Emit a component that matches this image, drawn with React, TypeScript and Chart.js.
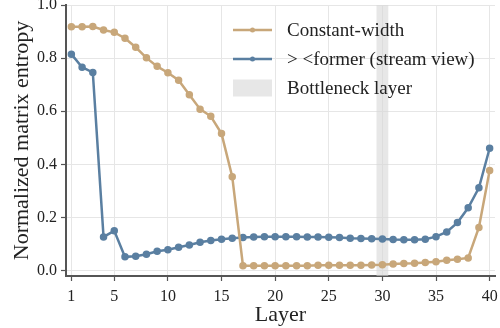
import React, { useEffect, useRef } from "react";
import { Chart, registerables } from "chart.js";

Chart.register(...registerables);

const layers = [1, 2, 3, 4, 5, 6, 7, 8, 9, 10, 11, 12, 13, 14, 15, 16, 17, 18, 19, 20, 21, 22, 23, 24, 25, 26, 27, 28, 29, 30, 31, 32, 33, 34, 35, 36, 37, 38, 39, 40];
const constantWidth = [0.918, 0.918, 0.919, 0.906, 0.897, 0.875, 0.841, 0.801, 0.769, 0.745, 0.717, 0.662, 0.608, 0.581, 0.516, 0.354, 0.019, 0.019, 0.019, 0.019, 0.019, 0.019, 0.019, 0.02, 0.02, 0.02, 0.02, 0.02, 0.021, 0.022, 0.025, 0.027, 0.028, 0.031, 0.034, 0.039, 0.043, 0.048, 0.163, 0.377];
const streamView = [0.815, 0.766, 0.746, 0.127, 0.15, 0.052, 0.054, 0.062, 0.073, 0.079, 0.088, 0.097, 0.107, 0.114, 0.118, 0.122, 0.125, 0.127, 0.128, 0.128, 0.128, 0.128, 0.127, 0.127, 0.126, 0.125, 0.122, 0.121, 0.12, 0.119, 0.117, 0.116, 0.116, 0.118, 0.128, 0.146, 0.181, 0.237, 0.312, 0.461];
const xTicks = [1, 5, 10, 15, 20, 25, 30, 35, 40];
const yTicks = [0, 0.2, 0.4, 0.6, 0.8, 1.0];
const bottleneckLayer = 30;
const seriesNames = ["Constant-width", "> <former (stream view)"];
const bandName = "Bottleneck layer";

const TAN = "#c8a77a";
const BLUE = "#5a7fa1";
const BAND = "rgba(215,215,215,0.6)";
const FONT = "'Liberation Serif', serif";

const bandPlugin = {
  id: "band",
  beforeDatasetsDraw(chart: any) {
    const { ctx, chartArea, scales } = chart;
    const x0 = scales.x.getPixelForValue(bottleneckLayer - 0.55);
    const x1 = scales.x.getPixelForValue(bottleneckLayer + 0.55);
    ctx.save();
    ctx.fillStyle = BAND;
    ctx.fillRect(x0, chartArea.top, x1 - x0, chartArea.bottom - chartArea.top);
    ctx.restore();
  },
};

const legendPlugin = {
  id: "customLegend",
  afterDraw(chart: any) {
    const { ctx, chartArea } = chart;
    const lx = chartArea.left + 167;
    const ty = chartArea.top + 25;
    const gap = 29;
    const hw = 39;
    ctx.save();
    ctx.font = `19px ${FONT}`;
    ctx.textBaseline = "middle";
    const items = [
      { label: seriesNames[0], color: TAN, kind: "line" },
      { label: seriesNames[1], color: BLUE, kind: "line" },
      { label: bandName, color: BAND, kind: "rect" },
    ];
    items.forEach((it, i) => {
      const y = ty + i * gap;
      if (it.kind === "line") {
        ctx.strokeStyle = it.color;
        ctx.lineWidth = 2.5;
        ctx.beginPath();
        ctx.moveTo(lx, y);
        ctx.lineTo(lx + hw, y);
        ctx.stroke();
        ctx.fillStyle = it.color;
        ctx.beginPath();
        ctx.arc(lx + hw / 2, y, 2.5, 0, Math.PI * 2);
        ctx.fill();
      } else {
        ctx.fillStyle = it.color;
        ctx.fillRect(lx, y - 8.5, hw, 17);
      }
      ctx.fillStyle = "#222";
      ctx.fillText(it.label, lx + hw + 15, y + 1);
    });
    ctx.restore();
  },
};

export default function App() {
  const ref = useRef<HTMLCanvasElement>(null);
  useEffect(() => {
    if (!ref.current) return;
    const chart = new Chart(ref.current, {
      type: "line",
      data: {
        datasets: [
          {
            label: seriesNames[0],
            data: layers.map((l, i) => ({ x: l, y: constantWidth[i] })),
            borderColor: TAN,
            backgroundColor: TAN,
            borderWidth: 2.5,
            pointRadius: 2.5,
            pointHoverRadius: 2.5,
            tension: 0,
          },
          {
            label: seriesNames[1],
            data: layers.map((l, i) => ({ x: l, y: streamView[i] })),
            borderColor: BLUE,
            backgroundColor: BLUE,
            borderWidth: 2.5,
            pointRadius: 2.5,
            pointHoverRadius: 2.5,
            tension: 0,
          },
        ],
      },
      options: {
        animation: false,
        responsive: false,
        devicePixelRatio: 1,
        layout: { padding: { top: 5, right: 3, left: 0, bottom: 0 } },
        plugins: { legend: { display: false }, tooltip: { enabled: false } },
        scales: {
          x: {
            type: "linear",
            min: 0.5,
            max: 40.5,
            afterBuildTicks: (s: any) => {
              s.ticks = xTicks.map((v) => ({ value: v }));
            },
            afterFit: (s: any) => {
              s.height = 52;
              s.paddingLeft = 0;
              s.paddingRight = 0;
            },
            ticks: {
              autoSkip: false,
              maxRotation: 0,
              color: "#222",
              font: { family: FONT, size: 16 },
              padding: 6,
              callback: (v: any) => String(v),
            },
            grid: {
              color: "#e6e6e6",
              borderDash: [3, 3],
              tickColor: "#555",
              tickBorderDash: [],
              tickLength: 5,
              tickWidth: 1.2,
            } as any,
            border: { color: "#555", width: 2 },
            title: {
              display: true,
              text: "Layer",
              color: "#222",
              font: { family: FONT, size: 22 },
              padding: { top: 0, bottom: 0 },
            },
          },
          y: {
            type: "linear",
            min: -0.02,
            max: 1.0,
            afterBuildTicks: (s: any) => {
              s.ticks = yTicks.map((v) => ({ value: v }));
            },
            afterFit: (s: any) => {
              s.width = 66;
              s.paddingTop = 0;
              s.paddingBottom = 0;
            },
            ticks: {
              color: "#222",
              font: { family: FONT, size: 16 },
              padding: 4,
              callback: (v: any) => Number(v).toFixed(1),
            },
            grid: {
              color: "#e6e6e6",
              borderDash: [3, 3],
              tickColor: "#555",
              tickBorderDash: [],
              tickLength: 5,
              tickWidth: 1.2,
            } as any,
            border: { color: "#555", width: 2 },
            title: {
              display: true,
              text: "Normalized matrix entropy",
              color: "#222",
              font: { family: FONT, size: 22 },
              padding: { top: 9, bottom: 0 },
            },
          },
        },
      },
      plugins: [bandPlugin, legendPlugin],
    });
    return () => chart.destroy();
  }, []);
  return (
    <div style={{ position: "fixed", left: 0, top: 0, width: 500, height: 328, background: "#fff" }}>
      <canvas ref={ref} width={500} height={328} />
    </div>
  );
}
